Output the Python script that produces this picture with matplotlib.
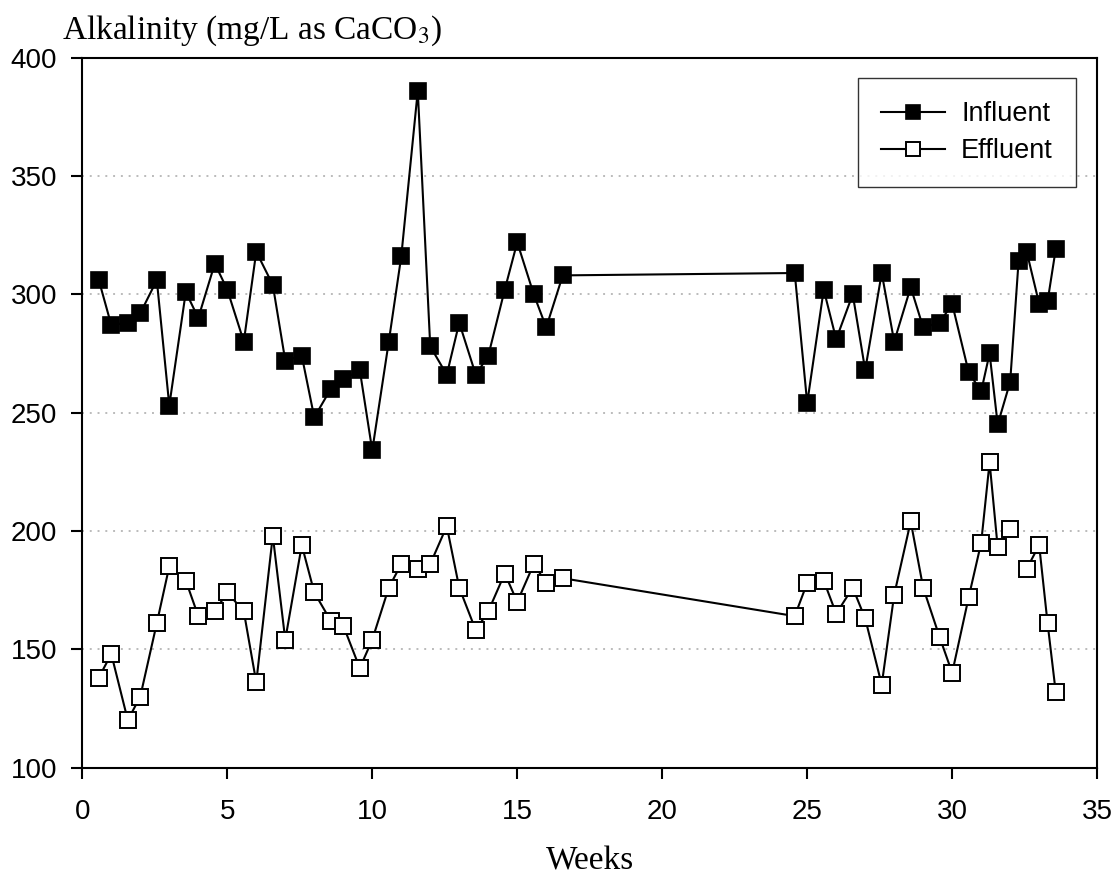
import numpy as np
import matplotlib
matplotlib.use('Agg')
import matplotlib.pyplot as plt

plt.rcParams['font.family'] = ['Liberation Sans', 'DejaVu Sans']
plt.rcParams['mathtext.fontset'] = 'stix'

# sampling times (weeks), two samples per week
weeks = [0.57, 1.0, 1.57, 2.0, 2.57, 3.0, 3.57, 4.0, 4.57, 5.0, 5.57, 6.0, 6.57, 7.0,
         7.57, 8.0, 8.57, 9.0, 9.57, 10.0, 10.57, 11.0, 11.57, 12.0, 12.57, 13.0,
         13.57, 14.0, 14.57, 15.0, 15.57, 16.0, 16.57,
         24.57, 25.0, 25.57, 26.0, 26.57, 27.0, 27.57, 28.0, 28.57, 29.0, 29.57,
         30.0, 30.57, 31.0, 31.29, 31.57, 32.0, 32.29, 32.57, 33.0, 33.29, 33.57]

influent = [306, 287, 288, 292, 306, 253, 301, 290, 313, 302, 280, 318, 304, 272,
            274, 248, 260, 264, 268, 234, 280, 316, 386, 278, 266, 288,
            266, 274, 302, 322, 300, 286, 308,
            309, 254, 302, 281, 300, 268, 309, 280, 303, 286, 288,
            296, 267, 259, 275, 245, 263, 314, 318, 296, 297, 319]

# effluent missing at week 32.29
effluent = [138, 148, 120, 130, 161, 185, 179, 164, 166, 174, 166, 136, 198, 154,
            194, 174, 162, 160, 142, 154, 176, 186, 184, 186, 202, 176,
            158, 166, 182, 170, 186, 178, 180,
            164, 178, 179, 165, 176, 163, 135, 173, 204, 176, 155,
            140, 172, 195, 229, 193, 201, np.nan, 184, 194, 161, 132]

fig = plt.figure(figsize=(11.15, 8.81), dpi=100)
ax = fig.add_axes([0.0738, 0.1288, 0.9102, 0.8057])

ax.plot(weeks, influent, color='black', lw=1.5, marker='s', ms=11,
        mfc='black', mec='black', mew=1.2, label='Influent')
ax.plot(weeks, effluent, color='black', lw=1.5, marker='s', ms=11,
        mfc='white', mec='black', mew=1.4, label='Effluent')

ax.set_xlim(0, 35)
ax.set_ylim(100, 400)
ax.set_xticks(np.arange(0, 36, 5))
ax.set_yticks(np.arange(100, 401, 50))

for y in [150, 200, 250, 300, 350]:
    ax.axhline(y, color='#bbbbbb', lw=1.4, ls=(0, (1, 3)), zorder=0)

for s in ax.spines.values():
    s.set_linewidth(1.5)
ax.tick_params(direction='out', length=8, width=1.5, labelsize=20,
               top=False, right=False)
ax.tick_params(axis='x', pad=15)
ax.tick_params(axis='y', pad=10)

fig.text(0.529, 12 / 881, 'Weeks', fontsize=24, family=['Liberation Serif'],
         ha='center', va='baseline')
fig.text(62 / 1115, 1 - 39 / 881, r'Alkalinity (mg/L as CaCO$_3$)', fontsize=24,
         family=['Liberation Serif'], ha='left', va='baseline')

leg = ax.legend(loc='upper right', bbox_to_anchor=(0.979, 0.971),
                borderaxespad=0, fontsize=19.5, frameon=True, fancybox=False,
                handlelength=2.36, handletextpad=0.6, markerscale=0.9,
                borderpad=0.85, labelspacing=0.4)
leg.get_frame().set_edgecolor('black')
leg.get_frame().set_linewidth(1.0)

plt.savefig('out.png', dpi=100)
